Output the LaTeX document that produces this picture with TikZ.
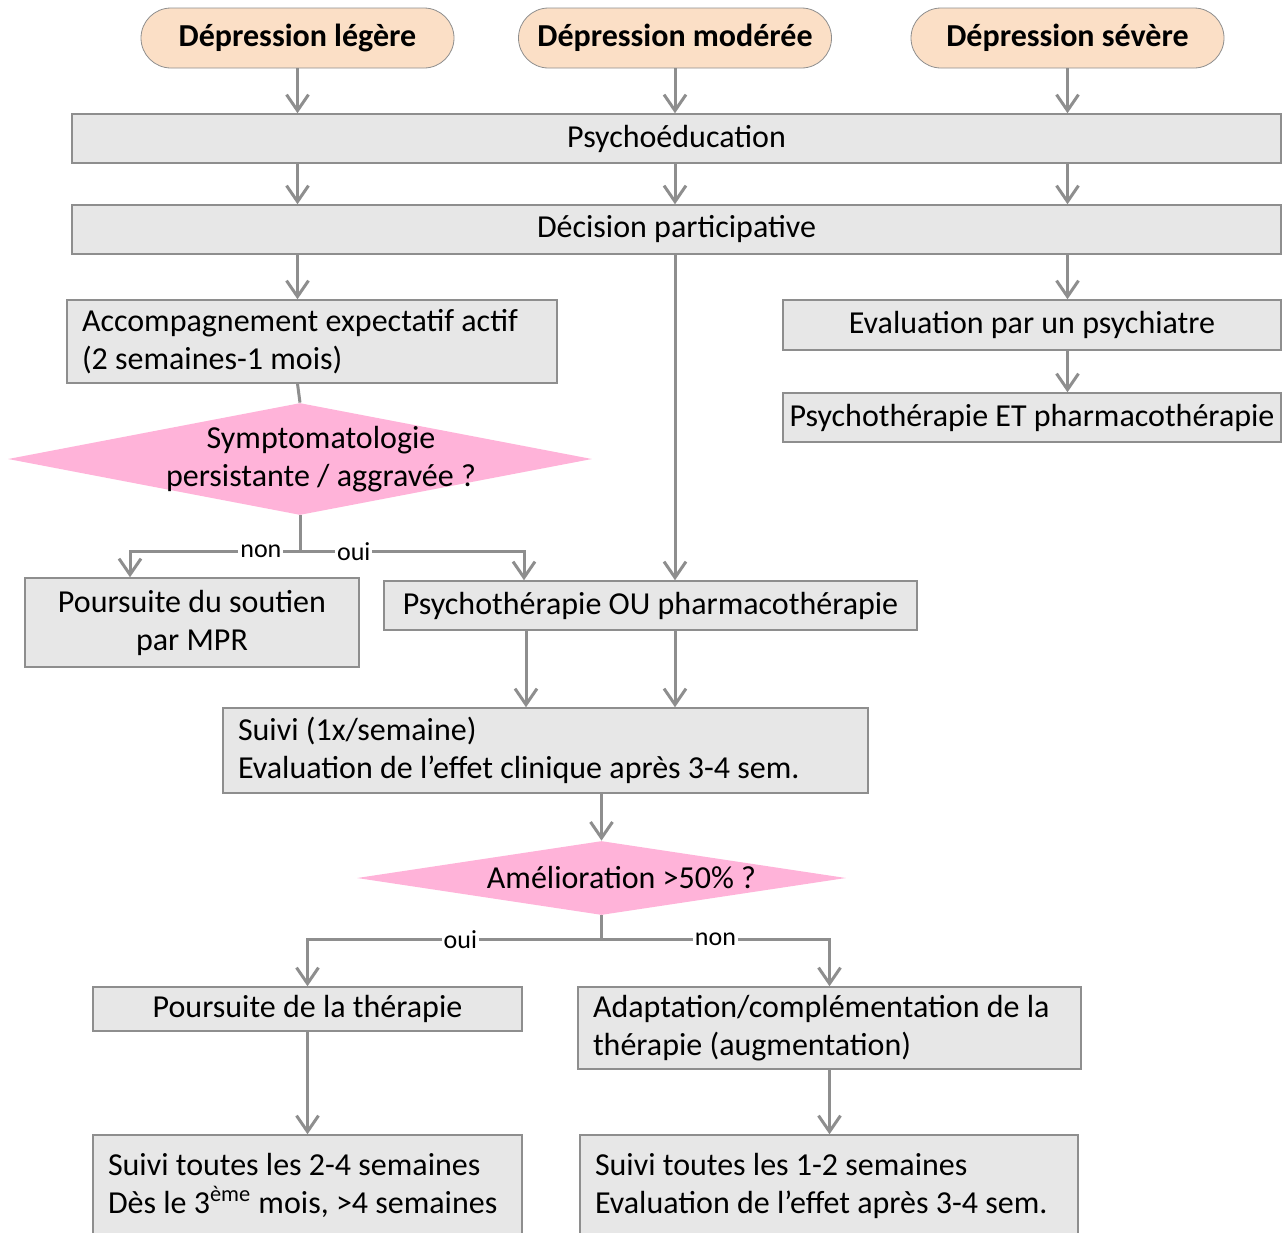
\documentclass[tikz,border=0pt]{standalone}
\usepackage{fontspec}
\setmainfont{Carlito}
\usetikzlibrary{arrows.meta,shapes.geometric}
\definecolor{peche}{HTML}{FBDFC6}
\definecolor{grisfond}{HTML}{E7E7E7}
\definecolor{grisbord}{HTML}{8E8E8E}
\definecolor{rose}{HTML}{FFB3D9}
\tikzset{>={Straight Barb[length=8pt,width=11pt]}}
\tikzstyle{niveau}=[rectangle,draw=grisbord,fill=peche,rounded corners=15pt,minimum width=156.5pt,minimum height=30pt,font=\bfseries\fontsize{16}{19}\selectfont]
\tikzstyle{boite}=[rectangle,draw=grisbord,fill=grisfond,line width=0.75pt,inner xsep=7.5pt,inner ysep=0pt]
\tikzstyle{question}=[diamond,fill=rose,inner sep=0pt]
\tikzstyle{lien}=[draw=grisbord,line width=1.5pt]
\tikzstyle{choix}=[fill=white,inner sep=1pt,font=\fontsize{13}{15}\selectfont]

\begin{document}
\begin{tikzpicture}[x=0.5pt,y=-0.5pt,font=\fontsize{16}{19}\selectfont]
	\useasboundingbox (0,0) rectangle (1285,1232);
	\clip (0,0) rectangle (1285,1232);

	\node[niveau] (leg) at (297.5,38) {Dépression légère};
	\node[niveau] (mod) at (675,38) {Dépression modérée};
	\node[niveau] (sev) at (1067.5,38) {Dépression sévère};

	\node[boite,minimum width=604.5pt,minimum height=24.5pt] (psy) at (676.5,138.5) {Psychoéducation};
	\node[boite,minimum width=604.5pt,minimum height=24.5pt] (dec) at (676.5,229.5) {Décision participative};

	\node[boite,text width=230pt,minimum height=41.5pt,align=flush left] (acc) at (312,341.5) {Accompagnement expectatif actif\\(2 semaines-1 mois)};
	\node[boite,minimum width=249pt,minimum height=25pt] (eval) at (1032,325) {Evaluation par un psychiatre};
	\node[boite,inner xsep=2pt,minimum width=249pt,minimum height=24.5pt] (psyet) at (1032,417.5) {Psychothérapie ET pharmacothérapie};

	\node[question,minimum width=292pt,minimum height=56pt,
		label={[xshift=10.5pt,align=flush center]center:Symptomatologie\\persistante / aggravée ?}] (sympt) at (300,459) {};

	\node[boite,minimum width=167pt,minimum height=44.5pt,align=flush center] (mpr) at (192,622.5) {Poursuite du soutien\\par MPR};
	\node[boite,minimum width=266.5pt,minimum height=24.5pt] (psyou) at (650.5,605.5) {Psychothérapie OU pharmacothérapie};
	\node[boite,text width=307.5pt,minimum height=42.5pt,align=flush left] (suivi) at (545.5,750.5) {Suivi (1x/semaine)\\Evaluation de l’effet clinique après 3-4 sem.};

	\node[question,minimum width=244.5pt,minimum height=37pt,
		label={[xshift=10pt]center:Amélioration >50\% ?}] (amel) at (601.5,878) {};

	\node[boite,minimum width=214.5pt,minimum height=22pt] (pthe) at (307.5,1009) {Poursuite de la thérapie};
	\node[boite,text width=236.5pt,minimum height=41pt,align=flush left] (adapt) at (829.5,1028) {Adaptation/complémentation de la\\thérapie (augmentation)};
	\node[boite,text width=199.5pt,minimum height=50.5pt,align=flush left] (s24) at (307.5,1185.5) {Suivi toutes les 2-4 semaines\\Dès le 3\textsuperscript{ème} mois, >4 semaines};
	\node[boite,text width=234pt,minimum height=50.5pt,align=flush left] (s12) at (829,1185.5) {Suivi toutes les 1-2 semaines\\Evaluation de l’effet après 3-4 sem.};

	\foreach \n in {leg,mod,sev} {
		\draw[lien,->] (\n) -- (\n |- psy.north);
		\draw[lien,->] (\n |- psy.south) -- (\n |- dec.north);
	}
	\draw[lien,->] (leg |- dec.south) -- (leg |- acc.north);
	\draw[lien,->] (mod |- dec.south) -- (mod |- psyou.north);
	\draw[lien,->] (sev |- dec.south) -- (sev |- eval.north);
	\draw[lien,->] (sev |- eval.south) -- (sev |- psyet.north);

	\draw[lien] (leg |- acc.south) -- (sympt.north);
	\draw[lien,->] (sympt.south) -- ++(0,36) -| node[choix,pos=0.115] {non} ([xshift=-31pt]mpr.north);
	\draw[lien,->] (sympt.south) -- ++(0,36) -| node[choix,pos=0.12] {oui} ([xshift=-63.25pt]psyou.north);

	\draw[lien,->] ([xshift=-62.25pt]psyou.south) -- ([xshift=-62.25pt]psyou.south |- suivi.north);
	\draw[lien,->] (mod |- psyou.south) -- (mod |- suivi.north);
	\draw[lien,->] (amel |- suivi.south) -- (amel.north);

	\draw[lien,->] (amel.south) -- ++(0,24) -| node[choix,pos=0.24] {oui} (pthe.north);
	\draw[lien,->] (amel.south) -- ++(0,24) -| node[choix,pos=0.25] {non} (adapt.north);
	\draw[lien,->] (pthe) -- (s24);
	\draw[lien,->] (adapt.south) -- (adapt.south |- s12.north);
\end{tikzpicture}
\end{document}
